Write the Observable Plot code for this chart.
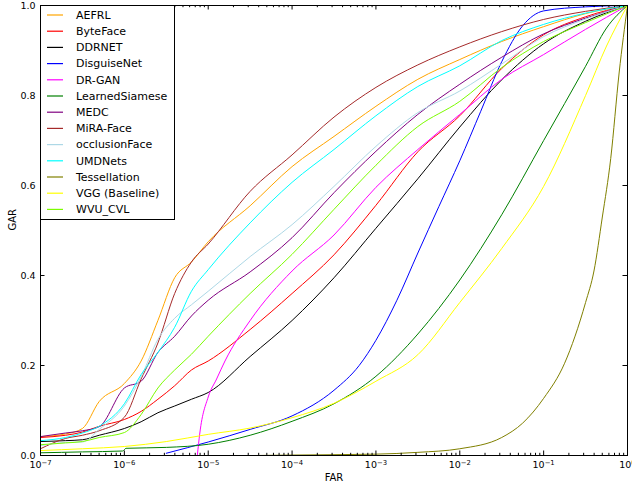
<!DOCTYPE html>
<html>
<head>
<meta charset="utf-8">
<script src="https://cdn.jsdelivr.net/npm/d3@7"></script>
<script src="https://cdn.jsdelivr.net/npm/@observablehq/plot@0.6"></script>
<style>
  html, body { margin: 0; padding: 0; background: #fff; }
  #chart { width: 632px; height: 488px; overflow: hidden; }
</style>
</head>
<body>
<div id="chart"></div>
<script>
// ---- data (FAR given as log10 exponents, GAR as fraction) ----
const seriesNames = ["AEFRL","ByteFace","DDRNET","DisguiseNet","DR-GAN","LearnedSiamese","MEDC","MiRA-Face","occlusionFace","UMDNets","Tessellation","VGG (Baseline)","WVU_CVL"];
const seriesColors = ["orange","red","black","blue","magenta","green","purple","brown","lightblue","cyan","olive","yellow","lawngreen"];

const gridExp = [-7, -6.7, -6.5, -6.3, -6.0, -5.8, -5.6, -5.4, -5.2, -5.0, -4.5, -4.0, -3.5, -3.0, -2.5, -2.0, -1.5, -1.0, -0.5, 0];

const AEFRL_gar     = [0.042, 0.048, 0.06, 0.12, 0.16, 0.21, 0.30, 0.395, 0.43, 0.475, 0.555, 0.642, 0.709, 0.776, 0.836, 0.88, 0.92, 0.953, 0.982, 1];
const ByteFace_gar  = [0.04, 0.045, 0.052, 0.065, 0.08, 0.098, 0.125, 0.155, 0.19, 0.21, 0.28, 0.36, 0.446, 0.556, 0.675, 0.755, 0.86, 0.935, 0.975, 1];
const DDRNET_gar    = [0.031, 0.033, 0.035, 0.045, 0.06, 0.075, 0.095, 0.11, 0.125, 0.14, 0.22, 0.30, 0.395, 0.505, 0.615, 0.73, 0.835, 0.915, 0.965, 1];
const MEDC_gar      = [0.042, 0.05, 0.055, 0.064, 0.15, 0.165, 0.229, 0.265, 0.31, 0.345, 0.408, 0.484, 0.584, 0.676, 0.758, 0.825, 0.885, 0.937, 0.972, 1];
const MiRA_gar      = [0.015, 0.038, 0.045, 0.055, 0.085, 0.17, 0.25, 0.36, 0.43, 0.47, 0.587, 0.668, 0.752, 0.818, 0.868, 0.908, 0.942, 0.969, 0.987, 1];
const occlusion_gar = [0.022, 0.029, 0.03, 0.058, 0.11, 0.175, 0.258, 0.305, 0.335, 0.365, 0.442, 0.513, 0.598, 0.687, 0.762, 0.81, 0.87, 0.931, 0.97, 1];
const UMD_gar       = [0.033, 0.04, 0.05, 0.065, 0.115, 0.18, 0.229, 0.285, 0.365, 0.413, 0.517, 0.607, 0.68, 0.755, 0.82, 0.866, 0.922, 0.958, 0.983, 1];
const WVU_gar       = [0.024, 0.028, 0.031, 0.04, 0.051, 0.091, 0.15, 0.19, 0.225, 0.265, 0.36, 0.447, 0.547, 0.645, 0.731, 0.787, 0.862, 0.92, 0.962, 1];

const DisguiseNet_exp = [-5.5, -5.0, -4.5, -4.0, -3.5, -3.2, -3.0, -2.75, -2.5, -2.25, -2.0, -1.75, -1.5, -1.25, -1.0, -0.5, 0];
const DisguiseNet_gar = [0.005, 0.03, 0.058, 0.088, 0.145, 0.2, 0.256, 0.345, 0.45, 0.553, 0.655, 0.765, 0.875, 0.955, 0.988, 0.997, 1];

const DRGAN_exp = [-5.13, -5.1, -5.0, -4.9, -4.8, -4.5, -4.0, -3.5, -3.0, -2.5, -2.0, -1.5, -1.0, -0.5, 0];
const DRGAN_gar = [0, 0.05, 0.13, 0.17, 0.21, 0.30, 0.41, 0.49, 0.596, 0.68, 0.758, 0.836, 0.891, 0.947, 1];

const Siamese_exp = [-7, -6.5, -6.02, -5.98, -5.5, -5.0, -4.5, -4.0, -3.5, -3.0, -2.5, -2.0, -1.5, -1.0, -0.5, -0.25, 0];
const Siamese_gar = [0.006, 0.008, 0.01, 0.016, 0.018, 0.025, 0.045, 0.076, 0.115, 0.176, 0.27, 0.39, 0.535, 0.70, 0.865, 0.95, 1];

const Tess_exp = [-4.44, -4.0, -3.0, -2.5, -2.0, -1.5, -1.25, -1.0, -0.75, -0.5, -0.4, -0.3, -0.2, -0.1, 0];
const Tess_gar = [0, 0.001, 0.003, 0.007, 0.015, 0.04, 0.072, 0.127, 0.205, 0.34, 0.41, 0.53, 0.66, 0.85, 1];

const VGG_exp = [-7, -6.5, -6.0, -5.5, -5.0, -4.5, -4.0, -3.5, -3.0, -2.5, -2.0, -1.5, -1.0, -0.5, -0.25, 0];
const VGG_gar = [0.011, 0.015, 0.02, 0.031, 0.047, 0.061, 0.084, 0.116, 0.165, 0.224, 0.34, 0.46, 0.598, 0.80, 0.91, 1];

const xTickExp = [-7, -6, -5, -4, -3, -2, -1, 0];
const yTicks = [0, 0.2, 0.4, 0.6, 0.8, 1.0];

// ---- build tables ----
const seriesExp = [gridExp, gridExp, gridExp, DisguiseNet_exp, DRGAN_exp, Siamese_exp, gridExp, gridExp, gridExp, gridExp, Tess_exp, VGG_exp, gridExp];
const seriesGar = [AEFRL_gar, ByteFace_gar, DDRNET_gar, DisguiseNet_gar, DRGAN_gar, Siamese_gar, MEDC_gar, MiRA_gar, occlusion_gar, UMD_gar, Tess_gar, VGG_gar, WVU_gar];
const tables = seriesNames.map((name, i) =>
  seriesExp[i].map((e, j) => ({name, far: Math.pow(10, e), gar: seriesGar[i][j]})));

const majorX = xTickExp.map(e => Math.pow(10, e));
const minorX = [];
for (const e of xTickExp.slice(0, -1)) for (let m = 2; m <= 9; m++) minorX.push(m * Math.pow(10, e));

// ---- layout ----
const W = 632, H = 488, mL = 40, mR = 5, mT = 5, mB = 33;
const iW = W - mL - mR, iH = H - mT - mB;
const majorLen = 4.5, minorLen = 2.2;

const sup = e => "10^" + String(e).replace("-", "\u2212");

const chart = Plot.plot({
  width: W, height: H,
  marginLeft: mL, marginRight: mR, marginTop: mT, marginBottom: mB,
  style: {fontFamily: "'DejaVu Sans', sans-serif", fontSize: "9.5px", background: "#fff", color: "#000"},
  x: {type: "log", domain: [1e-7, 1]},
  y: {domain: [0, 1]},
  marks: [
    ...tables.map((t, i) => Plot.line(t, {x: "far", y: "gar", stroke: seriesColors[i], strokeWidth: 1, curve: "monotone-x"})),
    // inward ticks on all four sides
    Plot.tickX(majorX, {x: d => d, insetTop: iH - majorLen, stroke: "#000"}),
    Plot.tickX(majorX, {x: d => d, insetBottom: iH - majorLen, stroke: "#000"}),
    Plot.tickX(minorX, {x: d => d, insetTop: iH - minorLen, stroke: "#000"}),
    Plot.tickX(minorX, {x: d => d, insetBottom: iH - minorLen, stroke: "#000"}),
    Plot.tickY(yTicks, {y: d => d, insetRight: iW - majorLen, stroke: "#000"}),
    Plot.tickY(yTicks, {y: d => d, insetLeft: iW - majorLen, stroke: "#000"}),
    Plot.axisX(majorX, {anchor: "bottom", tickSize: 0, tickPadding: 6, label: null, tickFormat: d => sup(Math.round(Math.log10(d)))}),
    Plot.axisY(yTicks, {anchor: "left", tickSize: 0, tickPadding: 5, label: null, tickFormat: d3.format(".1f")}),
    Plot.frame({stroke: "#000", strokeWidth: 1}),
    Plot.text(["FAR"], {text: d => d, frameAnchor: "bottom", dy: 25, fontSize: 10}),
    Plot.text(["GAR"], {text: d => d, frameAnchor: "left", dx: -28, rotate: -90, fontSize: 10})
  ]
});

// superscript exponents on x tick labels
d3.select(chart).selectAll('g[aria-label="x-axis tick label"] text').each(function() {
  const t = d3.select(this);
  const s = t.text();
  const parts = s.split("^");
  if (parts.length === 2) {
    t.text(parts[0]);
    t.append("tspan").attr("dy", "-0.5em").attr("font-size", "0.72em").text(parts[1]);
  }
});

// legend box (upper left, inside axes)
const svg = d3.select(chart);
const lg = svg.append("g").attr("font-family", "'DejaVu Sans', sans-serif").attr("font-size", 11).attr("text-anchor", "start");
lg.append("rect").attr("x", mL + 0.5).attr("y", mT + 0.5).attr("width", 134).attr("height", 214)
  .attr("fill", "#fff").attr("stroke", "#000").attr("stroke-width", 1);
seriesNames.forEach((name, i) => {
  const y = 15 + i * 16.2;
  lg.append("line").attr("x1", 47).attr("x2", 63).attr("y1", y).attr("y2", y)
    .attr("stroke", seriesColors[i]).attr("stroke-width", 1.2);
  lg.append("text").attr("x", 76).attr("y", y).attr("dy", "0.35em").attr("text-anchor", "start").attr("fill", "#000").text(name);
});

document.getElementById("chart").appendChild(chart);
</script>
</body>
</html>
